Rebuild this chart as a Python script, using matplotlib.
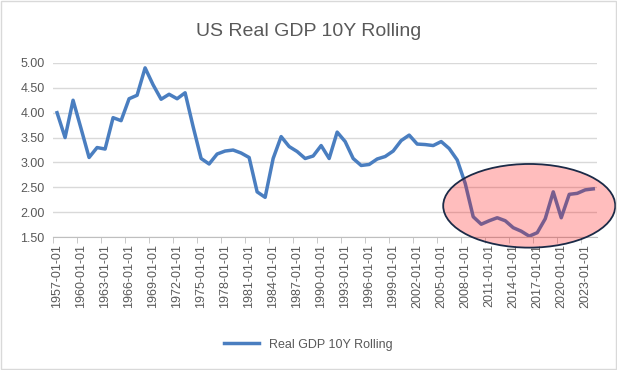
import matplotlib.pyplot as plt
from matplotlib.patches import Ellipse
import numpy as np

# US real GDP, 10 year rolling growth (%)
years = list(range(1957, 2025))
gdp_10y = [4.00, 3.50, 4.25, 3.68, 3.10, 3.30, 3.27, 3.90, 3.84, 4.28,
           4.35, 4.90, 4.56, 4.27, 4.37, 4.28, 4.40, 3.72, 3.08, 2.97,
           3.17, 3.23, 3.25, 3.19, 3.10, 2.41, 2.30, 3.08, 3.52, 3.32,
           3.22, 3.08, 3.13, 3.34, 3.08, 3.61, 3.42, 3.08, 2.94, 2.96,
           3.07, 3.12, 3.23, 3.44, 3.55, 3.37, 3.36, 3.34, 3.42, 3.28,
           3.05, 2.58, 1.91, 1.76, 1.83, 1.89, 1.83, 1.69, 1.62, 1.52,
           1.59, 1.87, 2.41, 1.89, 2.36, 2.38, 2.45, 2.47]
yticks = [1.5, 2.0, 2.5, 3.0, 3.5, 4.0, 4.5, 5.0]
labels = [f"{y}-01-01" for y in years]

grey = '#595959'
blue = '#4A7EC0'

fig = plt.figure(figsize=(6.17, 3.70), dpi=100)
plt.rcParams['font.family'] = ['Liberation Sans', 'DejaVu Sans']
ax = fig.add_axes([0.086, 0.359, 0.882, 0.471])

x = np.arange(len(years))
ax.plot(x, gdp_10y, color=blue, lw=2.5, solid_joinstyle='round', label='Real GDP 10Y Rolling')

ax.set_xlim(-0.5, len(years) - 0.5)
ax.set_ylim(1.5, 5.0)
ax.set_yticks(yticks)
ax.set_yticklabels([f"{v:.2f}" for v in yticks], fontsize=9, color=grey)
ax.set_xticks(x[::3])
ax.set_xticklabels(labels[::3], rotation=90, fontsize=9, color=grey)
ax.set_xticks(np.arange(-0.5, len(years), 3), minor=True)
ax.tick_params(axis='x', which='major', length=0, pad=5)
ax.tick_params(axis='x', which='minor', length=4, color='#BFBFBF')
ax.tick_params(axis='y', length=0, pad=6)
ax.grid(axis='y', color='#D9D9D9', lw=1)
ax.set_axisbelow(True)
for s in ['top', 'right', 'left']:
    ax.spines[s].set_visible(False)
ax.spines['bottom'].set_color('#BFBFBF')

# highlight ellipse around the post-2008 period
cx, cy, w, h = 59.0, 2.13, 21.5, 1.68
ax.add_patch(Ellipse((cx, cy), w, h, facecolor='#FF0000', alpha=0.26,
                     edgecolor='none', clip_on=False, zorder=3))
ax.add_patch(Ellipse((cx, cy), w, h, facecolor='none', edgecolor='#1B2A47',
                     lw=1.3, clip_on=False, zorder=4))

fig.text(0.5, 0.915, 'US Real GDP 10Y Rolling', ha='center', va='center',
         fontsize=14, color=grey)
fig.legend(loc='center', bbox_to_anchor=(0.5, 0.068), frameon=False,
           fontsize=9, handlelength=2.8, labelcolor=grey)

# outer chart border
fig.patches.append(plt.Rectangle((0.002, 0.003), 0.996, 0.994, transform=fig.transFigure,
                                 fill=False, edgecolor='#D9D9D9', lw=1))

fig.savefig('out.png', dpi=100)
